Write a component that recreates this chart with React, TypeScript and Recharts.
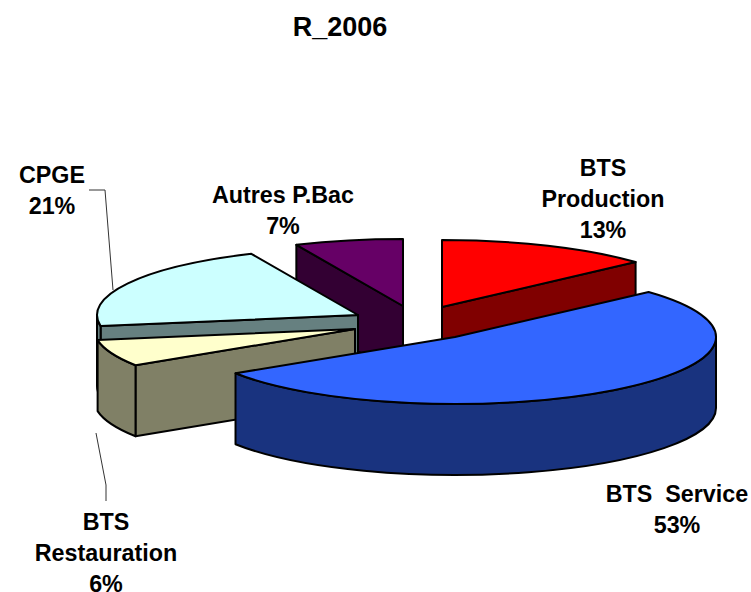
import { Pie, PieChart } from 'recharts';

const categories = ['BTS Production', 'BTS  Service', 'BTS Restauration', 'CPGE', 'Autres P.Bac'];
const shares = [13.3, 52.6, 6.45, 20.95, 6.7];

// split over lines the way the chart prints them
const labelLines = [
  ['BTS', 'Production', '13%'],
  ['BTS  Service', '53%'],
  ['BTS', 'Restauration', '6%'],
  ['CPGE', '21%'],
  ['Autres P.Bac', '7%'],
];

const data = categories.map((name, i) => ({ name, value: shares[i] }));

// back to front
const paintOrder = [4, 0, 3, 2, 1];

const topColors = ['#ff0000', '#3366ff', '#ffffcc', '#ccffff', '#660066'];
const sideColors = ['#800000', '#19337f', '#808066', '#668080', '#330033'];

const CX = 400;
const CY = 322;
const RADIUS = 261;
const SQUASH = 67 / 261;
const DEPTH = 71;
const explode = [
  [42, -15],
  [55, 15],
  [-45, 7],
  [-42, -7],
  [3, -16],
];
const labelPos = [
  [603, 176],
  [677, 502],
  [106, 530],
  [52, 183],
  [283, 203],
];
const leaders: Record<number, string> = {
  2: 'M96,433 L106,485 L106,501',
  3: 'M89,190 L105,190 L113,290',
};

function Slice3D(props: any) {
  const i = categories.indexOf(props.name);
  const rx = props.outerRadius;
  const ry = rx * SQUASH;
  const ox = props.cx + explode[i][0];
  const oy = props.cy + explode[i][1];
  const pt = (deg: number, drop = 0) => {
    const a = (deg * Math.PI) / 180;
    return `${ox + rx * Math.cos(a)},${oy - ry * Math.sin(a) + drop}`;
  };
  const { startAngle: start, endAngle: end } = props;
  const cut = (deg: number) =>
    `M${ox},${oy} L${pt(deg)} L${pt(deg, DEPTH)} L${ox},${oy + DEPTH} Z`;
  const large = start - end > 180 ? 1 : 0;

  // a cut face shows only when it turns toward the viewer
  const cosOf = (deg: number) => Math.cos((deg * Math.PI) / 180);
  const showStart = cosOf(start) < -1e-6;
  const showEnd = cosOf(end) > 1e-6;

  // only the part of the rim facing the viewer
  const s = Math.min(start, 0);
  const e = Math.max(end, -180);
  const rim =
    s > e
      ? `M${pt(s)} A${rx},${ry} 0 0 1 ${pt(e)} L${pt(e, DEPTH)} A${rx},${ry} 0 0 0 ${pt(s, DEPTH)} Z`
      : null;

  const line = { stroke: '#000', strokeWidth: 2, strokeLinejoin: 'round' as const };
  return (
    <g>
      {showStart && <path d={cut(start)} fill={sideColors[i]} {...line} />}
      {showEnd && <path d={cut(end)} fill={sideColors[i]} {...line} />}
      {rim && <path d={rim} fill={sideColors[i]} {...line} />}
      <path
        d={`M${ox},${oy} L${pt(start)} A${rx},${ry} 0 ${large} 1 ${pt(end)} Z`}
        fill={topColors[i]}
        {...line}
      />
    </g>
  );
}

function SliceLabel(props: any) {
  const i = categories.indexOf(props.name);
  const [x, y] = labelPos[i];
  return (
    <g>
      {leaders[i] && <path d={leaders[i]} fill="none" stroke="#333" strokeWidth={1} />}
      <text
        x={x}
        y={y}
        textAnchor="middle"
        fontFamily="Liberation Sans, Arial, sans-serif"
        fontWeight="bold"
        fontSize={23.3}
        fill="#000"
        style={{ whiteSpace: 'pre' }}
      >
        {labelLines[i].map((t, k) => (
          <tspan key={k} x={x} dy={k === 0 ? 0 : 31}>
            {t}
          </tspan>
        ))}
      </text>
    </g>
  );
}

export default function App() {
  return (
    <div style={{ position: 'absolute', left: 0, top: 0, width: 751, height: 592, background: '#fff' }}>
      <PieChart width={751} height={592} margin={{ top: 0, right: 0, bottom: 0, left: 0 }}>
        <text
          x={340}
          y={36}
          textAnchor="middle"
          fontFamily="Liberation Sans, Arial, sans-serif"
          fontWeight="bold"
          fontSize={27}
          fill="#000"
        >
          R_2006
        </text>
        {paintOrder.map((idx, layer) => (
          <Pie
            key={idx}
            data={data}
            dataKey="value"
            nameKey="name"
            cx={CX}
            cy={CY}
            outerRadius={RADIUS}
            startAngle={90}
            endAngle={-270}
            stroke="none"
            isAnimationActive={false}
            labelLine={false}
            label={layer === paintOrder.length - 1 ? SliceLabel : false}
            shape={(p: any) => (p.name === categories[idx] ? <Slice3D {...p} /> : <g />)}
          />
        ))}
      </PieChart>
    </div>
  );
}
